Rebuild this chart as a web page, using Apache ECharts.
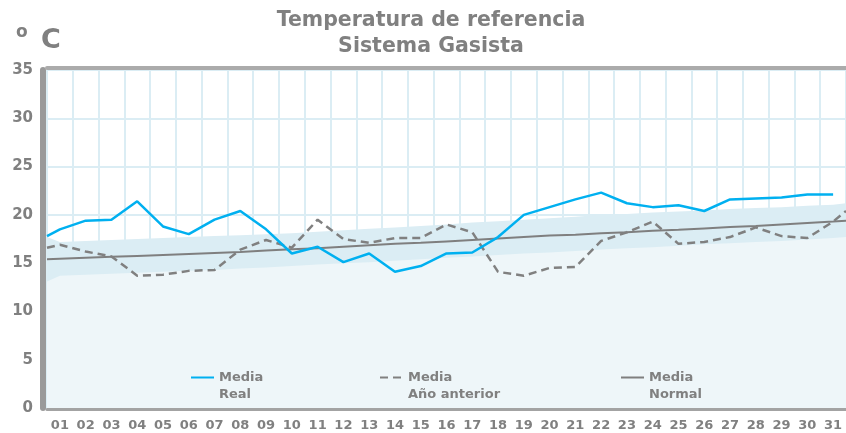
<!DOCTYPE html>
<html>
<head>
<meta charset="utf-8">
<script src="https://cdn.jsdelivr.net/npm/echarts@6/dist/echarts.min.js"></script>
<style>
  html, body { margin: 0; padding: 0; background: #fff; }
  #chart { width: 846px; height: 433px; }
</style>
</head>
<body>
<div id="chart"></div>
<script>
// dias del mes
const days = ['01','02','03','04','05','06','07','08','09','10','11','12','13','14','15','16',
  '17','18','19','20','21','22','23','24','25','26','27','28','29','30','31']

// Media Real
const realStart = 17.8
const real = [18.5, 19.4, 19.5, 21.4, 18.8, 18.0, 19.5, 20.4, 18.5, 16.0,
  16.7, 15.1, 16.0, 14.1, 14.7, 16.0, 16.1, 17.7, 20.0, 20.8,
  21.6, 22.3, 21.2, 20.8, 21.0, 20.4, 21.6, 21.7, 21.8, 22.1, 22.1]

// Media Año anterior
const anteriorStart = 16.6
const anteriorEnd = 20.4
const anterior = [16.9, 16.2, 15.7, 13.7, 13.8, 14.2, 14.3, 16.4, 17.4, 16.6,
  19.5, 17.5, 17.1, 17.6, 17.6, 19.0, 18.2, 14.1, 13.7, 14.5,
  14.6, 17.3, 18.2, 19.3, 17.0, 17.2, 17.7, 18.7, 17.8, 17.6, 19.3]

// Media Normal
const normalStart = 15.4
const normalEnd = 19.4
const normal = [15.45, 15.55, 15.65, 15.75, 15.85, 15.95, 16.05, 16.15, 16.3, 16.45,
  16.55, 16.7, 16.85, 17.0, 17.1, 17.25, 17.4, 17.55, 17.7, 17.85,
  17.95, 18.1, 18.2, 18.35, 18.45, 18.6, 18.75, 18.85, 19.0, 19.15, 19.3]

// banda de temperaturas normales
const upperStart = 17.7
const upperEnd = 21.2
const upper = [17.2, 17.3, 17.4, 17.5, 17.6, 17.7, 17.8, 17.9, 18.0, 18.1,
  18.25, 18.4, 18.55, 18.7, 18.85, 19.0, 19.2, 19.35, 19.5, 19.65,
  19.8, 20.0, 20.1, 20.25, 20.35, 20.45, 20.6, 20.7, 20.8, 20.95, 21.05]
const lowerStart = 13.1
const lowerEnd = 17.7
const lower = [13.7, 13.8, 13.9, 14.0, 14.1, 14.2, 14.3, 14.45, 14.55, 14.7,
  14.85, 15.0, 15.1, 15.25, 15.4, 15.55, 15.7, 15.85, 16.0, 16.1,
  16.25, 16.4, 16.55, 16.65, 16.8, 16.95, 17.05, 17.2, 17.3, 17.45, 17.6]

const yTicks = [0, 5, 10, 15, 20, 25, 30, 35]

// cada dia en el centro de su columna, los extremos en el borde
function points (vals, start, end) {
  let out = []
  if (start !== undefined) out.push([0, start])
  vals.forEach(function (v, i) { out.push([i + 0.5, v]) })
  if (end !== undefined) out.push([days.length, end])
  return out
}

const grey = '#808080'
const font = 'DejaVu Sans, Verdana, sans-serif'

let myChart = echarts.init(document.getElementById('chart'))

function legendFor (name, left) {
  return {
    data: [name],
    left: left,
    top: 352,
    padding: 0,
    itemWidth: 23,
    itemHeight: 10,
    selectedMode: false,
    itemStyle: { opacity: 0 },
    // linea vacia arriba para que el icono quede a la altura de la primera linea
    formatter: function (n) { return ' \n' + n },
    textStyle: {
      color: grey, fontWeight: 'bold', fontSize: 13, fontFamily: font, lineHeight: 17
    }
  }
}

let option = {
  animation: false,
  backgroundColor: '#fff',
  graphic: [
    { type: 'text', x: 431, y: 8, style: { text: 'Temperatura de referencia\nSistema Gasista', textAlign: 'center',
      fill: grey, font: 'bold 20.5px ' + font, lineHeight: 26 } },
    { type: 'text', x: 16, y: 24, style: { text: 'o', fill: grey, font: 'bold 17px ' + font } },
    { type: 'text', x: 41, y: 27, style: { text: 'C', fill: grey, font: 'bold 27px ' + font } }
  ],
  legend: [
    legendFor('Media\nReal', 190),
    legendFor('Media\nAño anterior', 379),
    legendFor('Media\nNormal', 620)
  ],
  grid: { left: 47, right: 0, top: 70, bottom: 25 },
  xAxis: [
    {
      type: 'value',
      position: 'top',
      min: 0,
      max: days.length,
      interval: 1,
      offset: 2,
      axisLine: { show: true, onZero: false, lineStyle: { color: '#ababab', width: 4 } },
      axisTick: { show: false },
      axisLabel: { show: false },
      splitLine: { show: true, lineStyle: { color: '#dbedf4', width: 2 } }
    },
    {
      type: 'category',
      position: 'bottom',
      data: days,
      boundaryGap: true,
      offset: 1,
      axisLine: { show: true, onZero: false, lineStyle: { color: '#a3a3a3', width: 3 } },
      axisTick: { show: false },
      splitLine: { show: false },
      axisLabel: { color: grey, fontWeight: 'bold', fontSize: 13, fontFamily: font, margin: 10, interval: 0 }
    }
  ],
  yAxis: {
    type: 'value',
    min: yTicks[0],
    max: yTicks[yTicks.length - 1],
    interval: 5,
    offset: 4,
    axisLine: { show: true, onZero: false, lineStyle: { color: '#9a9a9a', width: 6 } },
    axisTick: { show: false },
    axisLabel: { color: grey, fontWeight: 'bold', fontSize: 15, fontFamily: font, margin: 10 },
    splitLine: { show: true, lineStyle: { color: '#dbedf4', width: 2 } }
  },
  series: [
    {
      name: 'banda',
      type: 'line',
      xAxisIndex: 0,
      data: points(upper, upperStart, upperEnd),
      symbol: 'none',
      lineStyle: { width: 0 },
      areaStyle: { color: '#dbedf4', opacity: 1 },
      silent: true
    },
    {
      name: 'fondo',
      type: 'line',
      xAxisIndex: 0,
      data: points(lower, lowerStart, lowerEnd),
      symbol: 'none',
      lineStyle: { width: 0 },
      areaStyle: { color: '#eef6f9', opacity: 1 },
      silent: true
    },
    {
      name: 'Media\nNormal',
      type: 'line',
      xAxisIndex: 0,
      data: points(normal, normalStart, normalEnd),
      symbol: 'none',
      color: '#7f7f7f',
      lineStyle: { color: '#7f7f7f', width: 2 }
    },
    {
      name: 'Media\nAño anterior',
      type: 'line',
      xAxisIndex: 0,
      data: points(anterior, anteriorStart, anteriorEnd),
      symbol: 'none',
      color: grey,
      lineStyle: { color: grey, width: 2.5, type: [8, 5] }
    },
    {
      name: 'Media\nReal',
      type: 'line',
      xAxisIndex: 0,
      data: points(real, realStart),
      symbol: 'none',
      color: '#00b0f0',
      lineStyle: { color: '#00b0f0', width: 2.5 }
    }
  ]
}
myChart.setOption(option)
</script>
</body>
</html>
